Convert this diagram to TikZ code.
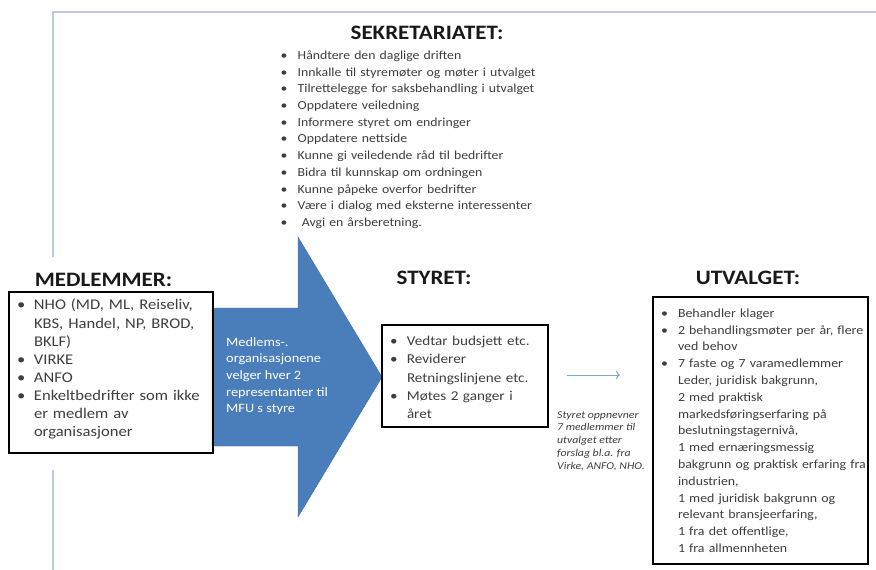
\documentclass[tikz,border=0pt]{standalone}
\usepackage{fontspec}
\setmainfont{Carlito}[FakeStretch=1.12]
\usetikzlibrary{arrows.meta}

\definecolor{rammeblaa}{HTML}{BACBE0}
\definecolor{pilblaa}{HTML}{4A7EBB}
\definecolor{pilkant}{HTML}{3F6EA6}
\definecolor{tynnpil}{HTML}{7FA7D0}
\definecolor{graatekst}{HTML}{3E3E3E}

% punkt i en liste: kule, deretter linjene i en egen boks;
% dybden til siste linje tas med videre saa linjeavstanden holdes
\newcommand\pkt[1]{\par\noindent\hbox to 17pt{\textbullet\hfil}%
  \parbox[t]{300pt}{\raggedright #1\par\xdef\sistedybde{\the\prevdepth}}%
  \par\prevdepth=\sistedybde\relax}

\begin{document}
\begin{tikzpicture}[x=1pt, y=-1pt,
  tittel/.style={font=\fontsize{20.5}{22}\selectfont\bfseries, text=black!90},
  boks/.style={draw, line width=2.5pt, inner ysep=0pt, inner xsep=8pt,
    align=left, text=graatekst}]
  \useasboundingbox (0,0) rectangle (876,570);

  \draw[rammeblaa, line width=1.5pt] (53,257) -- (53,12) -- (876,12);
  \draw[rammeblaa, line width=1.5pt] (53,470) -- (53,570);

  \node[tittel] (sekr) at (427,33) {SEKRETARIATET:};
  \node (oppg) [anchor=north west, inner sep=0pt, align=left, text width=300pt,
    text=graatekst, font=\fontsize{12.3}{16.7}\selectfont] at (280.5,42.5) {%
    \pkt{Håndtere den daglige driften}
    \pkt{Innkalle til styremøter og møter i utvalget}
    \pkt{Tilrettelegge for saksbehandling i utvalget}
    \pkt{Oppdatere veiledning}
    \pkt{Informere styret om endringer}
    \pkt{Oppdatere nettside}
    \pkt{Kunne gi veiledende råd til bedrifter}
    \pkt{Bidra til kunnskap om ordningen}
    \pkt{Kunne påpeke overfor bedrifter}
    \pkt{Være i dialog med eksterne interessenter}
    \pkt{\ Avgi en årsberetning.}};

  \fill[pilblaa, draw=pilkant] (212,308) -- (298,308) -- (298,237) -- (382,377)
    -- (298,517) -- (298,446) -- (212,446) -- cycle;
  \node (pil) [anchor=north west, inner sep=0pt, align=left, text=white,
    font=\fontsize{12.8}{16.7}\selectfont] at (226,337)
    {Medlems-.\\organisasjonene\\velger hver 2\\representanter til\\MFU s styre};

  \node[tittel] (medl) at (103.5,280) {MEDLEMMER:};
  \node[boks, minimum width=204pt, minimum height=155pt, text width=188pt,
    font=\fontsize{14.8}{18.1}\selectfont] (mbox) at (111,372.5) {%
    \pkt{NHO (MD, ML, Reiseliv,\\KBS, Handel, NP, BROD,\\BKLF)}
    \pkt{VIRKE}
    \pkt{ANFO}
    \pkt{Enkeltbedrifter som ikke\\er medlem av\\organisasjoner}
    \vspace*{14pt}};

  \node[tittel] (styr) at (434,278) {STYRET:};
  \node[boks, minimum width=166pt, minimum height=102pt, text width=150pt,
    font=\fontsize{13.5}{18.2}\selectfont] (sbox) at (465,376) {%
    \pkt{Vedtar budsjett etc.}
    \pkt{Reviderer\\Retningslinjene etc.}
    \pkt{Møtes 2 ganger i\\året}
    \vspace*{6pt}};

  \coordinate (fra) at (567,375);
  \coordinate (til) at (620,375);
  \draw[tynnpil, line width=1pt, -{To[length=4pt]}] (fra) -- (til);
  \node (oppnevn) [anchor=north west, inner sep=0pt, align=left, text=graatekst,
    font=\fontsize{10.5}{12.8}\selectfont\itshape] at (557,411)
    {Styret oppnevner\\7 medlemmer til\\utvalget etter\\forslag bl.a. fra\\Virke, ANFO, NHO.};

  \node[tittel] (utv) at (748,278) {UTVALGET:};
  \node[boks, minimum width=215pt, minimum height=267pt, text width=199pt,
    font=\fontsize{12.4}{16.8}\selectfont] (ubox) at (760.5,430.5) {%
    \pkt{Behandler klager}
    \pkt{2 behandlingsmøter per år, flere\\ved behov}
    \pkt{7 faste og 7 varamedlemmer\\Leder, juridisk bakgrunn,\\2 med praktisk\\
      markedsføringserfaring på\\beslutningstagernivå,\\1 med ernæringsmessig\\
      bakgrunn og praktisk erfaring fra\\industrien,\\1 med juridisk bakgrunn og\\
      relevant bransjeerfaring,\\1 fra det offentlige,\\1 fra allmennheten}
    \vspace*{8pt}};
\end{tikzpicture}
\end{document}
